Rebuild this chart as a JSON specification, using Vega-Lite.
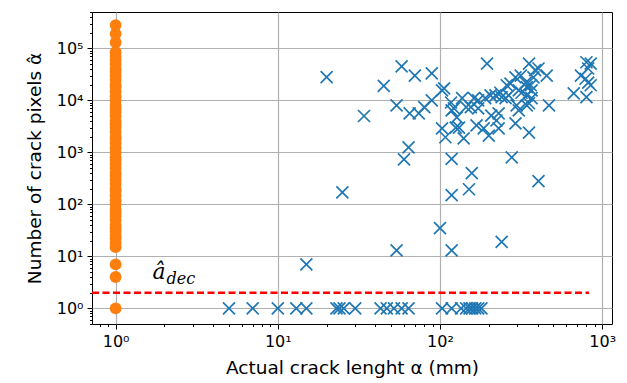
{
  "$schema": "https://vega.github.io/schema/vega-lite/v6.json",
  "width": 520,
  "height": 312,
  "autosize": {"type": "none"},
  "padding": {"left": 92, "top": 12, "right": 15, "bottom": 59},
  "background": "white",
  "config": {
    "view": {"stroke": "black", "strokeWidth": 1},
    "axis": {
      "domain": false,
      "labelFont": "DejaVu Sans",
      "labelFontSize": 16,
      "labelColor": "black",
      "titleFont": "DejaVu Sans",
      "titleFontSize": 18.5,
      "titleFontWeight": "normal",
      "titleColor": "black",
      "tickColor": "black",
      "tickWidth": 1,
      "gridColor": "#b0b0b0",
      "gridWidth": 1.2,
      "labelOverlap": false,
      "labelFlush": false
    }
  },
  "encoding": {
    "x": {
      "field": "x",
      "type": "quantitative",
      "title": "Actual crack lenght α (mm)",
      "scale": {"type": "log", "domain": [0.715, 1150], "nice": false},
      "axis": {
        "values": [0.8, 0.9, 1, 2, 3, 4, 5, 6, 7, 8, 9, 10, 20, 30, 40, 50, 60, 70, 80, 90, 100, 200, 300, 400, 500, 600, 700, 800, 900, 1000],
        "labelExpr": "datum.value==1?'10⁰':datum.value==10?'10¹':datum.value==100?'10²':datum.value==1000?'10³':''",
        "tickSize": {"condition": {"test": "datum.value==1||datum.value==10||datum.value==100||datum.value==1000", "value": 5}, "value": 2.5},
        "gridOpacity": {"condition": {"test": "datum.value==1||datum.value==10||datum.value==100||datum.value==1000", "value": 1}, "value": 0},
        "labelPadding": 4,
        "titlePadding": 9
      }
    },
    "y": {
      "field": "y",
      "type": "quantitative",
      "title": "Number of crack pixels α̂",
      "scale": {"type": "log", "domain": [0.5, 500000], "nice": false},
      "axis": {
        "values": [0.5, 0.6, 0.7, 0.8, 0.9, 1, 2, 3, 4, 5, 6, 7, 8, 9, 10, 20, 30, 40, 50, 60, 70, 80, 90, 100, 200, 300, 400, 500, 600, 700, 800, 900, 1000, 2000, 3000, 4000, 5000, 6000, 7000, 8000, 9000, 10000, 20000, 30000, 40000, 50000, 60000, 70000, 80000, 90000, 100000, 200000, 300000, 400000, 500000],
        "labelExpr": "datum.value==1?'10⁰':datum.value==10?'10¹':datum.value==100?'10²':datum.value==1000?'10³':datum.value==10000?'10⁴':datum.value==100000?'10⁵':''",
        "tickSize": {"condition": {"test": "datum.value==1||datum.value==10||datum.value==100||datum.value==1000||datum.value==10000||datum.value==100000", "value": 5}, "value": 2.5},
        "gridOpacity": {"condition": {"test": "datum.value==1||datum.value==10||datum.value==100||datum.value==1000||datum.value==10000||datum.value==100000", "value": 1}, "value": 0},
        "labelPadding": 4,
        "titlePadding": 12
      }
    }
  },
  "layer": [
    {
      "data": {"values": [
        {"x": 5, "y": 1}, {"x": 7, "y": 1}, {"x": 10, "y": 1}, {"x": 13, "y": 1}, {"x": 15, "y": 1},
        {"x": 23, "y": 1}, {"x": 24, "y": 1}, {"x": 25.5, "y": 1}, {"x": 30, "y": 1}, {"x": 43, "y": 1},
        {"x": 47, "y": 1}, {"x": 52, "y": 1}, {"x": 58, "y": 1}, {"x": 64, "y": 1}, {"x": 103, "y": 1},
        {"x": 118, "y": 1}, {"x": 135, "y": 1}, {"x": 145, "y": 1}, {"x": 152, "y": 1}, {"x": 158, "y": 1},
        {"x": 165, "y": 1}, {"x": 172, "y": 1}, {"x": 180, "y": 1},
        {"x": 15, "y": 7}, {"x": 54, "y": 13}, {"x": 100, "y": 35}, {"x": 118, "y": 13}, {"x": 240, "y": 19},
        {"x": 25, "y": 170}, {"x": 60, "y": 730}, {"x": 64, "y": 1250}, {"x": 118, "y": 150}, {"x": 151, "y": 195},
        {"x": 157, "y": 400}, {"x": 118, "y": 750}, {"x": 277, "y": 800}, {"x": 405, "y": 280},
        {"x": 20, "y": 28000}, {"x": 34, "y": 5000}, {"x": 45, "y": 19000}, {"x": 58, "y": 45000}, {"x": 70, "y": 30000},
        {"x": 89, "y": 33000}, {"x": 54, "y": 8000}, {"x": 65, "y": 5600}, {"x": 74, "y": 5600}, {"x": 80, "y": 7400},
        {"x": 89, "y": 10000}, {"x": 103, "y": 15500}, {"x": 103, "y": 2900}, {"x": 108, "y": 1950}, {"x": 117, "y": 9100},
        {"x": 118, "y": 6400}, {"x": 127, "y": 4700}, {"x": 137, "y": 11000}, {"x": 140, "y": 1860}, {"x": 131, "y": 3000},
        {"x": 145, "y": 7400}, {"x": 155, "y": 7400}, {"x": 162, "y": 11000}, {"x": 172, "y": 10000}, {"x": 168, "y": 3300},
        {"x": 186, "y": 2900}, {"x": 200, "y": 2100}, {"x": 205, "y": 12500}, {"x": 190, "y": 11000}, {"x": 230, "y": 2900},
        {"x": 230, "y": 5600}, {"x": 223, "y": 4100}, {"x": 220, "y": 12500}, {"x": 240, "y": 11500}, {"x": 258, "y": 19500},
        {"x": 254, "y": 11000}, {"x": 265, "y": 12500}, {"x": 292, "y": 27700}, {"x": 292, "y": 3600}, {"x": 306, "y": 6400},
        {"x": 306, "y": 15500}, {"x": 297, "y": 8000}, {"x": 318, "y": 14000}, {"x": 354, "y": 51000}, {"x": 343, "y": 12500},
        {"x": 354, "y": 8800}, {"x": 363, "y": 19500}, {"x": 354, "y": 2400}, {"x": 367, "y": 15500}, {"x": 377, "y": 27700},
        {"x": 386, "y": 38000}, {"x": 367, "y": 11000}, {"x": 405, "y": 41000}, {"x": 455, "y": 30000}, {"x": 470, "y": 8000},
        {"x": 343, "y": 18000}, {"x": 338, "y": 22000}, {"x": 195, "y": 51000},
        {"x": 106, "y": 17000}, {"x": 122, "y": 7000}, {"x": 125, "y": 3000}, {"x": 207, "y": 5100}, {"x": 172, "y": 7000},
        {"x": 315, "y": 30000}, {"x": 272, "y": 21000}, {"x": 236, "y": 14000}, {"x": 343, "y": 8000},
        {"x": 668, "y": 13600}, {"x": 740, "y": 30000}, {"x": 800, "y": 54000}, {"x": 850, "y": 51000}, {"x": 820, "y": 41000},
        {"x": 800, "y": 11500}, {"x": 820, "y": 22000}, {"x": 850, "y": 19500}, {"x": 790, "y": 26000}
      ]},
      "mark": {"type": "point", "shape": "M-1,-1L1,1M-1,1L1,-1", "filled": false, "stroke": "#1f77b4", "strokeWidth": 1.7, "size": 144, "opacity": 1}
    },
    {
      "data": {"values": [
        {"x": 1, "y": 1}, {"x": 1, "y": 4}, {"x": 1, "y": 7},
        {"x": 1, "y": 15}, {"x": 1, "y": 18}, {"x": 1, "y": 22}, {"x": 1, "y": 25}, {"x": 1, "y": 30}, {"x": 1, "y": 35},
        {"x": 1, "y": 40}, {"x": 1, "y": 50}, {"x": 1, "y": 60}, {"x": 1, "y": 70}, {"x": 1, "y": 80}, {"x": 1, "y": 100},
        {"x": 1, "y": 120}, {"x": 1, "y": 150}, {"x": 1, "y": 180}, {"x": 1, "y": 200}, {"x": 1, "y": 250}, {"x": 1, "y": 300},
        {"x": 1, "y": 350}, {"x": 1, "y": 400}, {"x": 1, "y": 500}, {"x": 1, "y": 600}, {"x": 1, "y": 700}, {"x": 1, "y": 800},
        {"x": 1, "y": 1000}, {"x": 1, "y": 1200}, {"x": 1, "y": 1500}, {"x": 1, "y": 1800}, {"x": 1, "y": 2000}, {"x": 1, "y": 2500},
        {"x": 1, "y": 3000}, {"x": 1, "y": 3500}, {"x": 1, "y": 4000}, {"x": 1, "y": 5000}, {"x": 1, "y": 6000}, {"x": 1, "y": 7000},
        {"x": 1, "y": 8000}, {"x": 1, "y": 10000}, {"x": 1, "y": 12000}, {"x": 1, "y": 15000}, {"x": 1, "y": 18000}, {"x": 1, "y": 20000},
        {"x": 1, "y": 25000}, {"x": 1, "y": 30000}, {"x": 1, "y": 35000}, {"x": 1, "y": 40000}, {"x": 1, "y": 50000}, {"x": 1, "y": 60000},
        {"x": 1, "y": 70000}, {"x": 1, "y": 85000}, {"x": 1, "y": 130000}, {"x": 1, "y": 190000}, {"x": 1, "y": 280000}
      ]},
      "mark": {"type": "circle", "color": "#ff7f0e", "size": 140, "opacity": 1}
    },
    {
      "data": {"values": [{"x": 0.715, "y": 2}, {"x": 830, "y": 2}]},
      "mark": {"type": "line", "color": "red", "strokeWidth": 2.5, "strokeDash": [7, 3.5], "clip": true}
    },
    {
      "data": {"values": [{"x": 1.69, "y": 3.6, "t": "â"}]},
      "mark": {"type": "text", "font": "DejaVu Serif", "fontStyle": "italic", "fontSize": 22, "align": "left", "baseline": "alphabetic", "color": "black"},
      "encoding": {"text": {"field": "t"}}
    },
    {
      "data": {"values": [{"x": 2.06, "y": 3.0, "t": "dec"}]},
      "mark": {"type": "text", "font": "DejaVu Serif", "fontStyle": "italic", "fontSize": 16, "align": "left", "baseline": "alphabetic", "color": "black"},
      "encoding": {"text": {"field": "t"}}
    }
  ]
}
